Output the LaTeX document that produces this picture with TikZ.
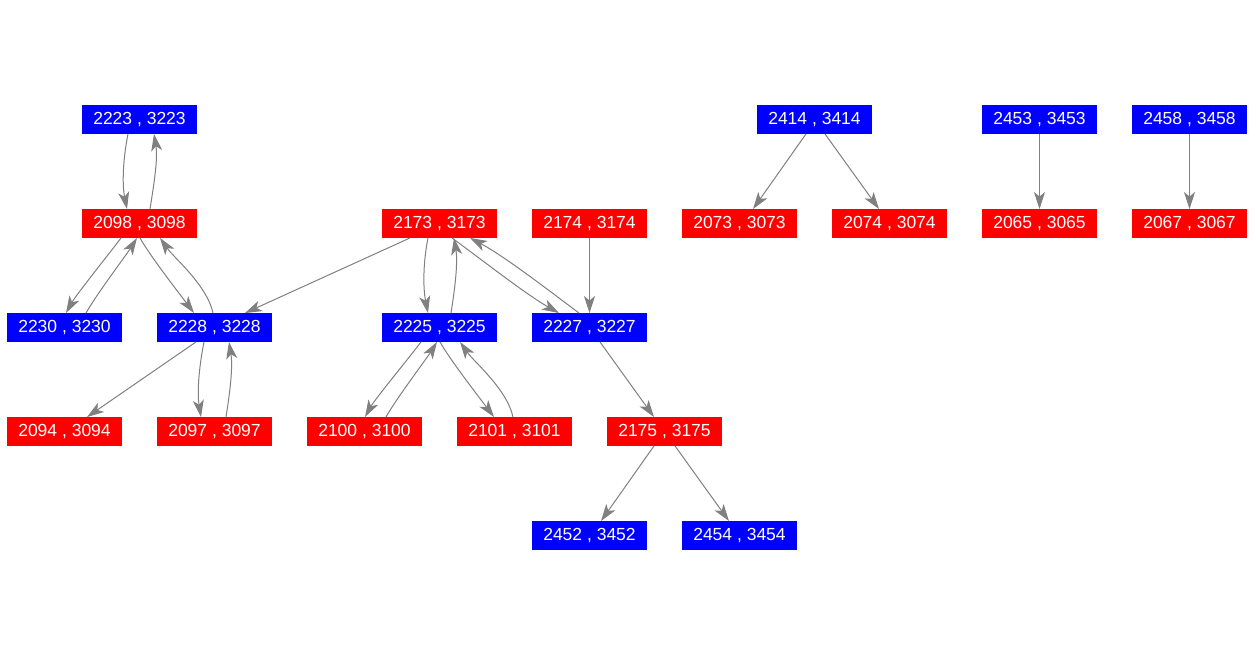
\documentclass[tikz,border=0pt]{standalone}
\usepackage{fontspec}
\setmainfont{Liberation Sans}
\usetikzlibrary{arrows.meta}
\definecolor{nblue}{RGB}{0,0,255}
\definecolor{nred}{RGB}{255,0,0}
\definecolor{egray}{RGB}{128,128,128}
\tikzset{
  box/.style={minimum width=115pt, minimum height=28.5pt, inner sep=0pt, text=white,
    font=\fontsize{17.5}{20}\selectfont},
  bnode/.style={box, fill=nblue},
  rnode/.style={box, fill=nred},
  conn/.style={draw=egray, line width=1pt, -{Stealth[length=17pt,width=11pt,inset=4.5pt]}}
}
\begin{document}
\begin{tikzpicture}[x=1pt,y=-1pt]
\useasboundingbox[fill=white] (0,0) rectangle (1256,656);
% row 1
\node[bnode] (n2223) at (139.5,119.5) {2223 , 3223};
\node[bnode] (n2414) at (814.5,119.5) {2414 , 3414};
\node[bnode] (n2453) at (1039.5,119.5) {2453 , 3453};
\node[bnode] (n2458) at (1189.5,119.5) {2458 , 3458};
% row 2
\node[rnode] (n2098) at (139.5,223.5) {2098 , 3098};
\node[rnode] (n2173) at (439.5,223.5) {2173 , 3173};
\node[rnode] (n2174) at (589.5,223.5) {2174 , 3174};
\node[rnode] (n2073) at (739.5,223.5) {2073 , 3073};
\node[rnode] (n2074) at (889.5,223.5) {2074 , 3074};
\node[rnode] (n2065) at (1039.5,223.5) {2065 , 3065};
\node[rnode] (n2067) at (1189.5,223.5) {2067 , 3067};
% row 3
\node[bnode] (n2230) at (64.5,327.5) {2230 , 3230};
\node[bnode] (n2228) at (214.5,327.5) {2228 , 3228};
\node[bnode] (n2225) at (439.5,327.5) {2225 , 3225};
\node[bnode] (n2227) at (589.5,327.5) {2227 , 3227};
% row 4
\node[rnode] (n2094) at (64.5,431.5) {2094 , 3094};
\node[rnode] (n2097) at (214.5,431.5) {2097 , 3097};
\node[rnode] (n2100) at (364.5,431.5) {2100 , 3100};
\node[rnode] (n2101) at (514.5,431.5) {2101 , 3101};
\node[rnode] (n2175) at (664.5,431.5) {2175 , 3175};
% row 5
\node[bnode] (n2452) at (589.5,535.5) {2452 , 3452};
\node[bnode] (n2454) at (739.5,535.5) {2454 , 3454};
% connectors
\draw[conn] ([xshift=-11.5pt]n2223.south) .. controls +(-5,25) and +(-5,-25) .. ([xshift=-12.5pt]n2098.north);
\draw[conn] ([xshift=10.5pt]n2098.north) .. controls +(4,-25) and +(4,25) .. ([xshift=14.5pt]n2223.south);
\draw[conn] ([xshift=-18.5pt]n2098.south) .. controls +(-12,16) and +(10,-18) .. ([xshift=1.5pt]n2230.north);
\draw[conn] ([xshift=21.5pt]n2230.north) .. controls +(10,-18) and +(-10,16) .. ([xshift=-2.5pt]n2098.south);
\draw[conn] ([xshift=0.5pt]n2098.south) .. controls +(10,18) and +(-12,-16) .. ([xshift=-20.5pt]n2228.north);
\draw[conn] ([xshift=-1.5pt]n2228.north) .. controls +(-6,-28) and +(14,20) .. ([xshift=20.5pt]n2098.south);
\draw[conn] ([xshift=-29.5pt]n2173.south) -- ([xshift=30.5pt]n2228.north);
\draw[conn] ([xshift=-18.5pt]n2228.south) -- ([xshift=22.5pt]n2094.north);
\draw[conn] ([xshift=-10.5pt]n2228.south) .. controls +(-5,25) and +(-4,-25) .. ([xshift=-13.5pt]n2097.north);
\draw[conn] ([xshift=11.5pt]n2097.north) .. controls +(4,-25) and +(4,25) .. ([xshift=14.5pt]n2228.south);
\draw[conn] ([xshift=-11.5pt]n2173.south) .. controls +(-5,25) and +(-5,-25) .. ([xshift=-11.5pt]n2225.north);
\draw[conn] ([xshift=11.5pt]n2225.north) .. controls +(4,-25) and +(4,25) .. ([xshift=14.5pt]n2173.south);
\draw[conn] ([xshift=12.5pt]n2173.south) .. controls +(30,22) and +(-32,-18) .. ([xshift=-30.5pt]n2227.north);
\draw[conn] ([xshift=-10.5pt]n2227.north) .. controls +(-32,-24) and +(34,18) .. ([xshift=30.5pt]n2173.south);
\draw[conn] (n2174.south) -- (n2227.north);
\draw[conn] ([xshift=-18.5pt]n2225.south) .. controls +(-12,16) and +(10,-18) .. ([xshift=0.5pt]n2100.north);
\draw[conn] ([xshift=21.5pt]n2100.north) .. controls +(10,-18) and +(-10,16) .. ([xshift=-2.5pt]n2225.south);
\draw[conn] ([xshift=0.5pt]n2225.south) .. controls +(10,18) and +(-12,-16) .. ([xshift=-20.5pt]n2101.north);
\draw[conn] ([xshift=-1.5pt]n2101.north) .. controls +(-6,-28) and +(14,20) .. ([xshift=20.5pt]n2225.south);
\draw[conn] ([xshift=10.5pt]n2227.south) -- ([xshift=-10.5pt]n2175.north);
\draw[conn] ([xshift=-10.5pt]n2175.south) -- ([xshift=11.5pt]n2452.north);
\draw[conn] ([xshift=10.5pt]n2175.south) -- ([xshift=-10.5pt]n2454.north);
\draw[conn] ([xshift=-8.5pt]n2414.south) -- ([xshift=13.5pt]n2073.north);
\draw[conn] ([xshift=10.5pt]n2414.south) -- ([xshift=-10.5pt]n2074.north);
\draw[conn] (n2453.south) -- (n2065.north);
\draw[conn] (n2458.south) -- (n2067.north);
\end{tikzpicture}
\end{document}
